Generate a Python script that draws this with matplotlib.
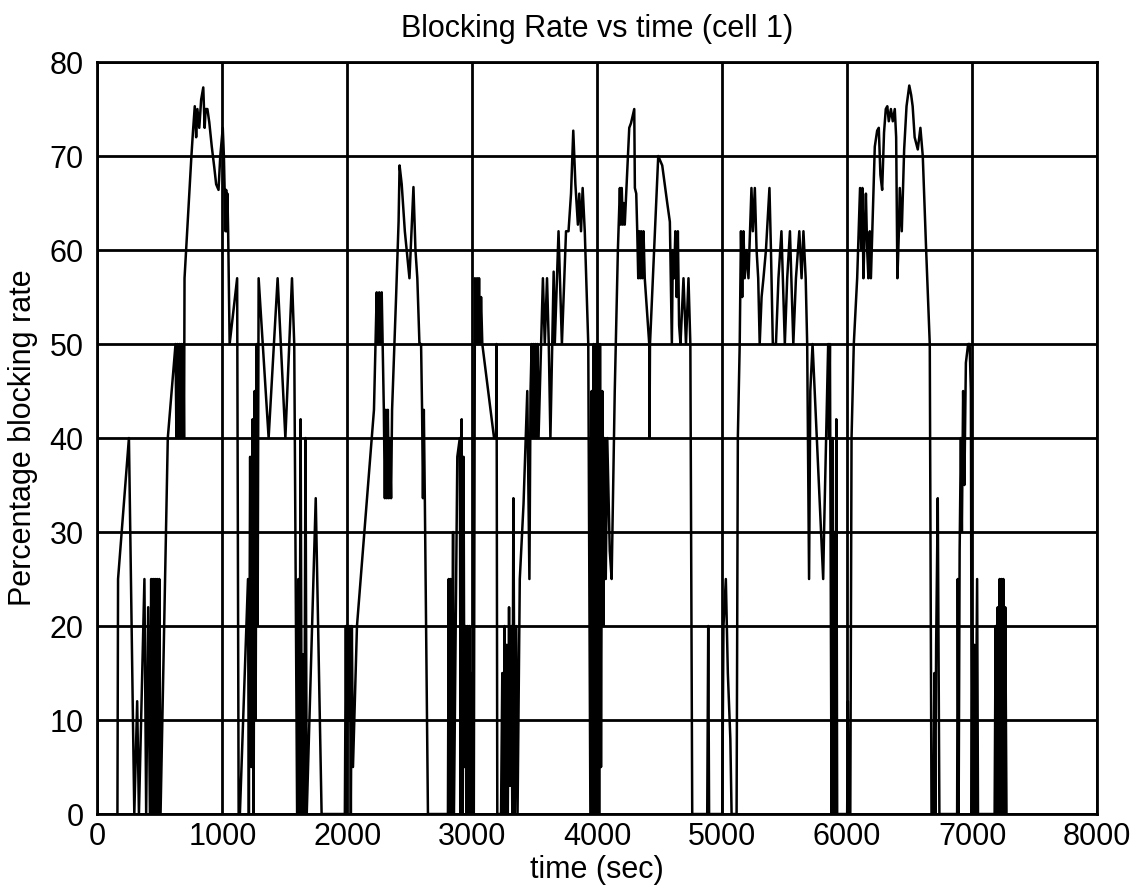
import matplotlib.pyplot as plt

plt.rcParams['font.family'] = ['Liberation Sans', 'DejaVu Sans']

# (time, blocking rate) samples
time_sec = [
    160, 165, 252, 295, 318, 332, 376, 390, 406, 420, 430, 438, 446, 454, 462, 470, 478, 486, 495, 505,
    563, 625, 632, 640, 648, 656, 664, 672, 680, 688, 693, 697, 752, 765, 779, 790, 800, 815, 830, 847,
    858, 866, 880, 895, 915, 935, 950, 969, 983, 1003, 1012, 1017, 1025, 1030, 1035, 1040, 1046, 1058, 1118, 1130,
    1140, 1205, 1212, 1222, 1232, 1242, 1250, 1258, 1266, 1275, 1282, 1290, 1370, 1442, 1504, 1557, 1575, 1598,
    1608, 1616, 1626, 1636, 1645, 1655, 1665, 1675, 1747, 1794, 1980,
    1988, 1996, 2004, 2012, 2020, 2028, 2036, 2045, 2077, 2213, 2235, 2245, 2255, 2265, 2275, 2285, 2292, 2300,
    2308, 2316, 2324, 2332, 2340, 2350, 2358, 2390, 2410, 2418, 2435, 2460, 2497, 2529, 2545, 2560, 2577, 2590,
    2598, 2605, 2612, 2620, 2645, 2805,
    2811, 2818, 2826, 2834, 2846, 2853, 2880, 2900, 2907, 2915, 2922, 2930, 2937, 2945, 2952, 2960, 2968, 2976,
    2984, 2995, 3005, 3012, 3021,
    3030, 3038, 3046, 3054, 3062, 3070, 3080, 3174, 3190, 3194, 3200, 3230, 3240, 3248, 3258, 3266, 3276, 3284,
    3294, 3302, 3312, 3320, 3329, 3340, 3352, 3362, 3380, 3410, 3440, 3457, 3466, 3475, 3482, 3490, 3498, 3506,
    3514, 3522, 3530, 3565, 3580, 3598, 3612, 3625, 3640, 3651, 3660, 3690, 3717, 3750, 3770, 3790, 3808, 3825,
    3845, 3856, 3870, 3883, 3900, 3928, 3945,
    3955, 3962, 3972, 3980, 3990, 3998, 4008, 4015, 4022, 4030, 4040, 4048, 4058, 4068, 4080, 4100, 4115, 4140,
    4165, 4181, 4188, 4196, 4204, 4212, 4220, 4256, 4270, 4296, 4301, 4312, 4320, 4328, 4336, 4344, 4352, 4360,
    4370, 4380, 4416, 4418, 4422, 4488, 4520, 4560, 4581, 4597, 4605, 4615, 4625, 4635, 4645, 4655, 4666, 4690,
    4710, 4730, 4745, 4760,
    4880, 4888, 4895, 5000, 5010, 5029, 5045, 5065, 5075, 5115, 5125, 5140, 5150, 5160, 5170, 5180, 5195, 5210,
    5234, 5245, 5261, 5275, 5288, 5300, 5315, 5330, 5350, 5378, 5390, 5405, 5430, 5450, 5474, 5501, 5520, 5542,
    5569, 5590, 5617, 5635, 5650, 5668, 5680, 5695, 5705, 5723, 5808, 5815, 5848, 5855, 5862, 5875, 5883, 5890,
    5898, 5905, 5913, 5920, 6000, 6005, 6012, 6025,
    6035, 6053, 6080, 6103, 6112, 6122, 6130, 6140, 6150, 6160, 6170, 6181, 6190, 6221, 6240, 6253, 6266, 6280,
    6295, 6309, 6321, 6333, 6350, 6365, 6381, 6392, 6402, 6414, 6421, 6437, 6456, 6475, 6497, 6512, 6524, 6540,
    6565, 6586, 6605, 6632, 6661, 6675, 6690, 6698, 6705, 6712, 6725, 6738, 6880, 6885, 6892, 6900, 6910, 6918,
    6928, 6938, 6950, 6968, 6980, 6990, 6997, 7003, 7010, 7018, 7025, 7040, 7047, 7180, 7188, 7195, 7205, 7212,
    7220, 7228, 7235, 7242, 7250, 7258, 7265, 7275,
]
blocking_pct = [
    0, 25, 40, 0, 12, 0, 25, 0, 22, 0, 25, 0, 25, 0, 25, 0, 25, 0, 25, 0,
    40, 50, 40, 50, 40, 50, 40, 50, 40, 50, 40, 57, 70, 72.7, 75.3, 72, 75, 73, 76, 77.3,
    73, 75, 75, 73.6, 71, 68.8, 67, 66.4, 70, 73, 70, 67, 62, 66.4, 62, 66, 62, 50, 57, 0,
    0, 25, 0, 38, 5, 42, 0, 45, 10, 50, 20, 57, 40, 57, 40, 57, 50, 0,
    25, 0, 42, 0, 17, 0, 40, 0, 33.6, 0, 0,
    20, 0, 20, 10, 20, 0, 20, 5, 20, 43, 55.5, 50, 55.5, 50, 55.5, 48, 43, 33.6,
    43, 33.6, 43, 33.6, 40, 33.6, 43, 55, 63, 69, 67, 62, 57, 66.7, 60, 57, 50, 50,
    43, 33.6, 43, 33.6, 0, 0,
    25, 0, 25, 0, 30, 0, 38, 40, 0, 42, 0, 38, 5, 20, 0, 20, 0, 20,
    0, 15, 0, 0, 57,
    50, 57, 50, 57, 50, 55, 50, 40, 40, 50, 0, 0, 15, 0, 20, 0, 18, 0,
    22, 3, 20, 0, 33.6, 0, 20, 0, 25, 33, 45, 25, 45, 50, 40, 50, 40, 50,
    40, 50, 40, 57, 50, 57, 50, 40, 50, 57.7, 50, 62, 50, 62, 62, 66, 72.7, 67,
    62.7, 66, 62, 66.6, 62, 50, 0,
    45, 0, 50, 0, 50, 0, 50, 0, 50, 5, 45, 20, 40, 25, 40, 28, 25, 45,
    60, 66.6, 62.7, 66.6, 62.7, 65, 62.7, 73, 73.5, 75, 66.6, 66, 62, 57, 62, 57, 62, 57,
    62, 57, 50, 40, 50, 70, 69, 65, 63, 50, 60, 57, 62, 55, 62, 52, 50, 57,
    50, 57, 50, 0,
    0, 20, 0, 0, 20, 25, 15, 8, 0, 0, 40, 50, 62, 55, 62, 57, 60, 57,
    66.6, 62, 66.6, 60, 57, 50, 55, 57, 60, 66.6, 60, 50, 50, 57, 62, 50, 57, 62,
    50, 57, 62, 57, 62, 57, 50, 25, 45, 50, 25, 30, 50, 40, 50, 0, 40, 0,
    30, 0, 42, 0, 0, 12, 0, 0,
    40, 50, 57, 66.6, 60, 66.6, 57, 62, 66, 60, 57, 62, 57, 71, 72.7, 73, 68, 66.4,
    72.5, 75, 75.3, 73.7, 75, 73.7, 75, 72, 57, 62, 66.6, 62, 70.7, 75.3, 77.5, 76.5, 75.3, 72,
    70.7, 73, 70, 60, 50, 0, 0, 15, 0, 18, 33.6, 0, 0, 25, 0, 28, 40, 30,
    45, 35, 48, 50, 50, 45, 0, 20, 0, 18, 0, 25, 0, 0, 20, 0, 22, 0,
    25, 0, 25, 0, 25, 0, 22, 0,
]

x_ticks = list(range(0, 8001, 1000))
y_ticks = list(range(0, 81, 10))

fig = plt.figure(figsize=(11.33, 8.85), dpi=100)
ax = fig.add_axes([0.086, 0.0802, 0.8823, 0.8497])

ax.plot(time_sec, blocking_pct, color='black', linewidth=1.8)

ax.set_xlim(0, 8000)
ax.set_ylim(0, 80)
ax.set_xticks(x_ticks)
ax.set_yticks(y_ticks)
ax.grid(True, color='black', linewidth=2.0)
ax.set_axisbelow(True)
for spine in ax.spines.values():
    spine.set_linewidth(2.0)
ax.tick_params(direction='in', length=0, labelsize=22)
ax.tick_params(axis='y', pad=10)
ax.tick_params(axis='x', pad=6)

ax.set_title('Blocking Rate vs time (cell 1)', fontsize=22, pad=18)
ax.set_xlabel('time (sec)', fontsize=22, labelpad=2)
ax.set_ylabel('Percentage blocking rate', fontsize=22, labelpad=8)

fig.savefig('out.png', dpi=100)
